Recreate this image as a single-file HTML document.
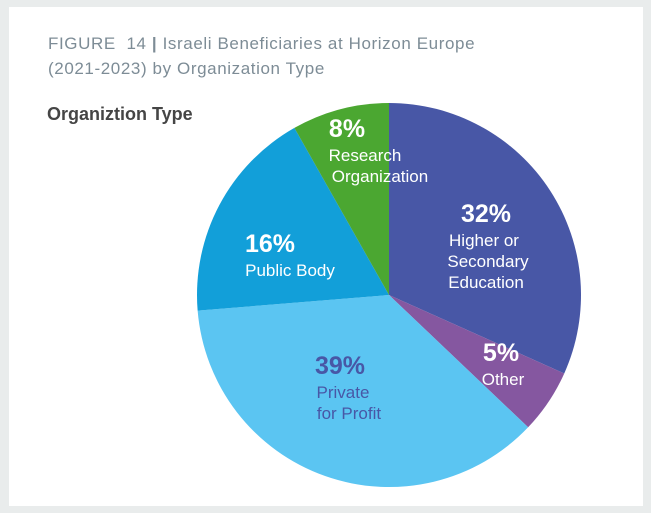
<!DOCTYPE html>
<html><head><meta charset="utf-8"><style>
body{margin:0;width:651px;height:513px;background:#e9ecec;font-family:"Liberation Sans",sans-serif;overflow:hidden}
#card{position:absolute;left:9px;top:7px;width:634px;height:499px;background:#fff}
.t{position:absolute;left:48px;font-size:17px;color:#7d8c96;letter-spacing:0.6px;white-space:nowrap}
</style></head><body>
<div id="card"></div>
<div class="t" style="top:34px">FIGURE&nbsp; 14 <b style="color:#7d8c96">|</b> Israeli Beneficiaries at Horizon Europe</div>
<div class="t" style="top:59px">(2021-2023) by Organization Type</div>
<div style="position:absolute;left:47px;top:104px;font-size:18px;font-weight:bold;color:#454545">Organiztion Type</div>
<svg id="pie" width="651" height="513" style="position:absolute;left:0;top:0"></svg>
<script>
const categories=["Higher or Secondary Education","Other","Private for Profit","Public Body","Research Organization"];
const values=[31.7,5.4,36.6,18.1,8.2];
const pctLabels=["32%","5%","39%","16%","8%"];
const colors=["#4857a6","#8557a0","#5bc5f2","#129fd9","#4ba731"];
const labelLines=[["Higher or","Secondary","Education"],["Other"],["Private","for Profit"],["Public Body"],["Research","Organization"]];
const labelPos=[[486,213],[501,352],[340,365],[270,243],[347,128]];
const textColors=["#fff","#fff","#4857a6","#fff","#fff"];
const cx=389,cy=295,r=192,NS="http://www.w3.org/2000/svg";
const svg=document.getElementById('pie');
const total=values.reduce((a,b)=>a+b,0);
function pt(a){return [cx+r*Math.sin(a),cy-r*Math.cos(a)];}
let acc=0;
values.forEach((v,i)=>{
 const a0=acc/total*2*Math.PI;acc+=v;const a1=acc/total*2*Math.PI;
 const p0=pt(a0),p1=pt(a1),lg=(a1-a0)>Math.PI?1:0;
 const p=document.createElementNS(NS,'path');
 p.setAttribute('d',`M${cx},${cy}L${p0[0]},${p0[1]}A${r},${r} 0 ${lg} 1 ${p1[0]},${p1[1]}Z`);
 p.setAttribute('fill',colors[i]);
 
 
 svg.appendChild(p);
});
labelPos.forEach((lp,i)=>{
 const t=document.createElementNS(NS,'text');
 t.setAttribute('x',lp[0]);t.setAttribute('y',lp[1]+9);
 t.setAttribute('text-anchor','middle');t.setAttribute('font-size','25');t.setAttribute('font-weight','bold');
 t.setAttribute('fill',textColors[i]);t.setAttribute('font-family','Liberation Sans, sans-serif');
 t.textContent=pctLabels[i];
 
 
 svg.appendChild(t);
 labelLines[i].forEach((ln,j)=>{
  const s=document.createElementNS(NS,'text');
  s.setAttribute('x',lp[0]+(i==4?[18,33][j]:i==0?[-2,2,0][j]:i==3?20:i==2?[3,9][j]:2));
  s.setAttribute('y',lp[1]+33+j*21);
  s.setAttribute('text-anchor','middle');s.setAttribute('font-size','17');
  s.setAttribute('fill',textColors[i]);s.setAttribute('font-family','Liberation Sans, sans-serif');
  s.textContent=ln;
  
  
  svg.appendChild(s);
 });
});
</script>
</body></html>
